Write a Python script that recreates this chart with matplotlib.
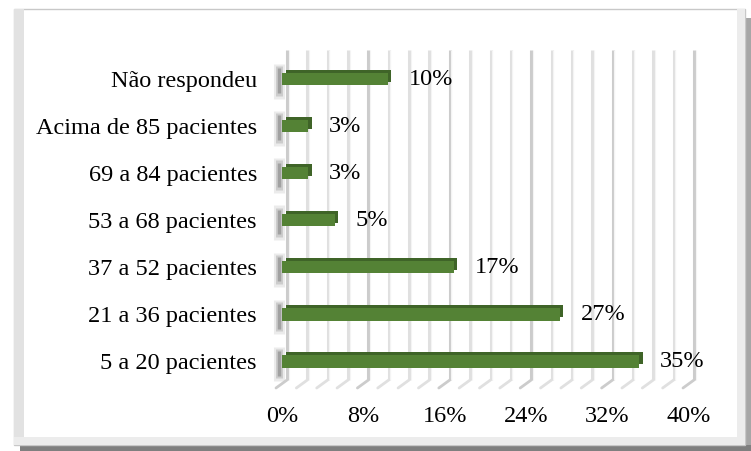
import matplotlib
matplotlib.use("Agg")
import matplotlib.pyplot as plt
from matplotlib.patches import Rectangle
from matplotlib.transforms import ScaledTranslation

plt.rcParams['font.family'] = ['Liberation Serif', 'DejaVu Serif']

categories = ["5 a 20 pacientes", "21 a 36 pacientes", "37 a 52 pacientes",
              "53 a 68 pacientes", "69 a 84 pacientes", "Acima de 85 pacientes",
              "Não respondeu"]
values = [35.1, 27.3, 16.9, 5.2, 2.6, 2.6, 10.4]
xticks = [0, 8, 16, 24, 32, 40]
xticklabels = ["0%", "8%", "16%", "24%", "32%", "40%"]

W, H = 751, 451
FS = 17.5
fig = plt.figure(figsize=(W / 100, H / 100), dpi=100)


def box(x, y, w, h, **kw):
    # rectangle in pixel units, measured from the top-left corner
    r = Rectangle((x / W, 1 - (y + h) / H), w / W, h / H,
                  transform=fig.transFigure, zorder=-5, **kw)
    fig.patches.append(r)


# frame with bevel and shadow
box(745, 18, 6, 433, color="#a6a6a6", lw=0)
box(20, 445, 731, 6, color="#7f7f7f", lw=0)
box(14, 9, 731, 436, facecolor="white", edgecolor="#c8c8c8", lw=1)
box(14, 9, 10, 436, color="#e2e2e2", lw=0)
box(14, 437, 731, 8, color="#ececec", lw=0)
box(737, 9, 8, 436, color="#ececec", lw=0)

ax = fig.add_axes([282 / W, 1 - 380 / H, 407 / W, 330 / H])
ax.set_xlim(0, 40)
ax.set_ylim(-0.393, 6.616)
ax.patch.set_alpha(0)
for s in ax.spines.values():
    s.set_visible(False)

# back wall gridlines (shifted to the back) and floor edges
px = fig.dpi_scale_trans
wall = ax.get_xaxis_transform() + ScaledTranslation(5 / 100, 0, px)
wall_hi = ax.get_xaxis_transform() + ScaledTranslation(6.5 / 100, 0, px)
for g in range(0, 41, 2):
    col = "#cccccc" if g % 8 == 0 else "#e0e0e0"
    ax.vlines(g, 0, 1, color=col, lw=2.2, transform=wall, zorder=0, clip_on=False)
    ax.vlines(g, 0, 1, color="#f4f4f4", lw=0.8, transform=wall_hi, zorder=0,
              clip_on=False)
    ax.annotate("", xy=(g, 0), xycoords=wall,
                xytext=(-11 * 0.72, -8 * 0.72), textcoords="offset points",
                arrowprops=dict(arrowstyle="-", color=col, lw=2,
                                shrinkA=0, shrinkB=0),
                annotation_clip=False)

ypos = list(range(len(categories)))

# soft left wall shadow at each bar
shadow = ax.transData + ScaledTranslation(-3 / 100, 0, px)
for lw, a, ext in [(8, 0.10, 0.42), (5, 0.18, 0.36), (2.5, 0.3, 0.3)]:
    for y in ypos:
        ax.vlines(0, y - ext, y + ext * 0.75, color="#404040", lw=lw, alpha=a,
                  transform=shadow, zorder=1, clip_on=False)

# 3D bars: darker top/side face, then the front face
depth = ax.transData + ScaledTranslation(3.5 / 100, 3.2 / 100, px)
ax.barh(ypos, values, height=0.26, color="#3f6428", transform=depth, zorder=2,
        clip_on=False)
ax.barh(ypos, values, height=0.26, color="#548235", zorder=3)

for y, v in zip(ypos, values):
    ax.annotate(f"{v:.0f}%", xy=(v, y), xytext=(15, 0), textcoords="offset points",
                va="center", ha="left", fontsize=FS, color="black")

ax.set_yticks(ypos)
ax.set_yticklabels(categories, fontsize=FS)
ax.set_xticks(xticks)
ax.set_xticklabels(xticklabels, fontsize=FS)
ax.tick_params(axis="y", length=0, pad=18)
ax.tick_params(axis="x", length=0, pad=19)

fig.savefig("out.png", dpi=100)
